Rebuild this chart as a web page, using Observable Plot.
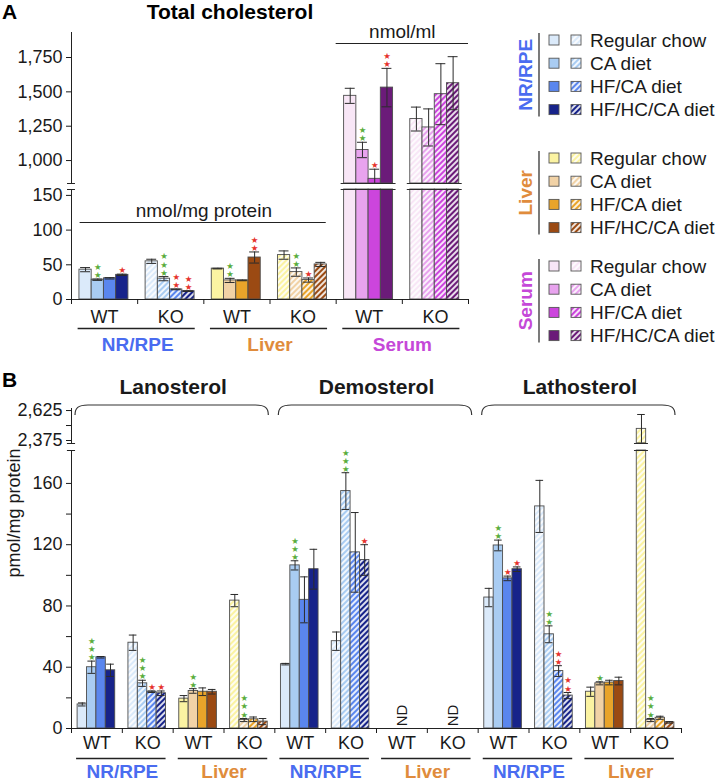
<!DOCTYPE html>
<html><head><meta charset="utf-8">
<script src="https://cdn.jsdelivr.net/npm/d3@7"></script>
<script src="https://cdn.jsdelivr.net/npm/@observablehq/plot@0.6"></script>
<style>
body{margin:0;background:#fff;}
#wrap{position:relative;width:719px;height:783px;overflow:hidden;background:#fff}
</style></head><body><div id="wrap"></div>
<script>
// ---------- data ----------
const diets = ["Regular chow", "CA diet", "HF/CA diet", "HF/HC/CA diet"];
const genotypes = ["WT", "KO"];
const tissuesA = ["NR/RPE", "Liver", "Serum"];
const tissuesB = ["NR/RPE", "Liver"];
const sterols = ["Lanosterol", "Demosterol", "Lathosterol"];

// Total cholesterol (rows: NR/RPE WT, NR/RPE KO, Liver WT, Liver KO, Serum WT, Serum KO)
const cholMean = [[43, 28.5, 30.5, 35.5], [55, 30, 14.5, 12], [44.5, 27.5, 27.5, 60.5], [64, 39.5, 28, 50.5], [1471, 1077, 867, 1531], [1302, 1241, 1483, 1563]];
const cholErr = [[3, 1, 1, 1], [3, 3, 0.5, 0.5], [0.5, 3, 0.5, 8], [6, 6, 3, 3], [55, 56, 70, 140], [87, 135, 222, 193]];
const cholStars = [["", "g2", "", "r1"], ["", "g3", "r2", "r2"], ["", "g2", "", "r2"], ["", "g2", "r1", ""], ["", "g2", "r1", "r2"], ["", "", "", ""]];

// Sterols (rows: NR/RPE WT, NR/RPE KO, Liver WT, Liver KO)
const lanoMean = [[15.7, 40, 46.5, 38], [56, 29.5, 24, 23], [19.5, 24.5, 24, 24], [83.5, 5.5, 6, 4.5]];
const lanoErr = [[1, 4, 0.5, 4], [5, 2, 0.5, 1.5], [2, 1.5, 2.5, 1.5], [4, 1, 1.5, 2]];
const lanoStars = [["", "g3", "", ""], ["", "g3", "r1", "r1"], ["", "g2", "", ""], ["", "g3", "", ""]];
const desmoMean = [[42, 106.5, 84, 104], [57, 155, 115, 110], null, null];
const desmoErr = [[0.5, 3, 15, 13], [6, 12, 26, 10], null, null];
const desmoStars = [["", "g3", "", ""], ["", "g3", "", "r1"], null, null];
const lathoMean = [[85.5, 119.5, 98, 104], [145, 61.5, 37.5, 21.5], [24, 29.5, 30, 31], [2472, 5.5, 7, 4]];
const lathoErr = [[6, 3.5, 1.5, 1.5], [17, 5.5, 3.5, 2], [3, 1, 1.5, 2.5], [120, 1, 1, 0.5]];
const lathoStars = [["", "g2", "r1", "r1"], ["", "g2", "r2", "r2"], ["", "g1", "", ""], ["", "g3", "", ""]];

const ticksA_low = [0, 50, 100, 150];
const ticksA_up = [1000, 1250, 1500, 1750];
const ticksB_low = [0, 40, 80, 120, 160];
const ticksB_lowMinor = [20, 60, 100, 140];
const ticksB_up = [2375, 2625];
const ticksB_upMinor = [2500];

// ---------- styles ----------
const palette = [
  ["#dbeafa", "#a9ccf2", "#5a86ee", "#17238a"],
  ["#fbf3a2", "#f1d2a6", "#e9a42a", "#9b4a13"],
  ["#f8e6f6", "#e8a3ee", "#cc45dd", "#6b1b79"]
];
const tissueColors = ["#4a6cf0", "#e08c3c", "#c548d8"];
const GREEN = "#5aad3c", RED = "#e6322c";
const FONT = '"Liberation Sans", Arial, Helvetica, sans-serif';
const style = {fontFamily: FONT, fontSize: "18px", color: "#1a1a1a", background: "transparent", overflow: "visible"};
const PAD = 0.12, BW = 0.185, CAP = 0.075;
const A_LOW = [0, 158.5], A_UP = [833, 1932];
const B_LOW = [0, 181.5], B_UP = [2350, 2642];

const wrap = document.getElementById("wrap");

// overlay svg (patterns, titles, legend)
const overlay = d3.select(wrap).append("svg")
  .attr("width", 719).attr("height", 783)
  .style("position", "absolute").style("left", 0).style("top", 0)
  .attr("font-family", FONT);
const defs = overlay.append("defs");
palette.forEach((cols, t) => cols.forEach((c, d) => {
  const p = defs.append("pattern").attr("id", `hatch-${t}-${d}`)
    .attr("patternUnits", "userSpaceOnUse").attr("width", 4).attr("height", 4)
    .attr("patternTransform", "rotate(45)");
  p.append("rect").attr("width", 4).attr("height", 4).attr("fill", c);
  p.append("line").attr("x1", 1).attr("x2", 1).attr("y1", 0).attr("y2", 4)
    .attr("stroke", "#fff").attr("stroke-width", 1.7);
}));

overlay.append("text").attr("x", 2).attr("y", 19).attr("font-weight", "bold").attr("font-size", 21).text("A");
overlay.append("text").attr("x", 230).attr("y", 19).attr("text-anchor", "middle").attr("font-weight", "bold").attr("font-size", 21).text("Total cholesterol");
overlay.append("text").attr("x", 2).attr("y", 387).attr("font-weight", "bold").attr("font-size", 21).text("B");

// legend
const legendTop = [40, 158, 266], rowGap = 23.2;
tissuesA.forEach((t, ti) => {
  const ys = diets.map((_, d) => legendTop[ti] + d * rowGap);
  overlay.append("line").attr("x1", 539).attr("x2", 539).attr("y1", ys[0] - 7).attr("y2", ys[3] + 7)
    .attr("stroke", "#333").attr("stroke-width", 1.3);
  overlay.append("text").attr("transform", `translate(532,${(ys[0] + ys[3]) / 2}) rotate(-90)`)
    .attr("text-anchor", "middle").attr("font-weight", "bold").attr("font-size", 19)
    .attr("fill", tissueColors[ti]).text(t);
  diets.forEach((dn, d) => {
    overlay.append("rect").attr("x", 549).attr("y", ys[d] - 5).attr("width", 10).attr("height", 10)
      .attr("fill", palette[ti][d]).attr("stroke", "#555").attr("stroke-width", 0.9);
    overlay.append("rect").attr("x", 571).attr("y", ys[d] - 5).attr("width", 10).attr("height", 10)
      .attr("fill", `url(#hatch-${ti}-${d})`).attr("stroke", "#555").attr("stroke-width", 0.9);
    overlay.append("text").attr("x", 590).attr("y", ys[d]).attr("dy", "0.36em").attr("font-size", 19)
      .attr("fill", "#1a1a1a").text(dn);
  });
});

// ---------- helpers ----------
function build(means, errs, stars, tissueOf) {
  const out = [];
  means.forEach((row, g) => {
    if (!row) return;
    row.forEach((m, d) => {
      const t = tissueOf(g), ko = g % 2 === 1;
      const x1 = g + PAD + d * BW;
      out.push({g, d, mean: m, err: errs[g][d], star: stars[g][d], x1, x2: x1 + BW, xc: x1 + BW / 2,
        fill: ko ? `url(#hatch-${t}-${d})` : palette[t][d]});
    });
  });
  return out;
}
const starText = s => Array(+s.slice(1)).fill("\u2605").join("\n");
const starFill = s => s[0] === "g" ? GREEN : RED;

function segment(recs, lo, hi, top) {
  const shown = top ? recs.filter(r => r.mean > lo) : recs;
  const ends = shown.filter(r => r.mean <= hi);
  const cut = top ? shown : recs.filter(r => r.mean > hi);
  const cutY = top ? lo : hi;
  const ink = "#2b2b2b";
  return [
    Plot.rect(shown, {x1: "x1", x2: "x2", y1: () => lo, y2: r => Math.min(r.mean, hi), fill: "fill", stroke: "#4d4d4d", strokeWidth: 0.9}),
    Plot.ruleX(ends, {x: "xc", y1: r => Math.max(lo, r.mean - r.err), y2: r => r.mean + r.err, stroke: ink, strokeWidth: 1}),
    Plot.ruleY(ends, {y: r => r.mean + r.err, x1: r => r.xc - CAP, x2: r => r.xc + CAP, stroke: ink, strokeWidth: 1}),
    Plot.ruleY(ends.filter(r => r.mean - r.err > lo), {y: r => r.mean - r.err, x1: r => r.xc - CAP, x2: r => r.xc + CAP, stroke: ink, strokeWidth: 1}),
    Plot.text(ends.filter(r => r.star), {x: "xc", y: r => r.mean + r.err, text: r => starText(r.star), fill: r => starFill(r.star),
      fontFamily: "DejaVu Sans", fontSize: 8.5, lineHeight: 0.95, lineAnchor: "bottom", dy: -1}),
    Plot.ruleY(cut, {y: () => cutY, x1: r => r.x1 - 0.045, x2: r => r.x2 + 0.045, stroke: ink, strokeWidth: 1})
  ];
}
function place(el, top) {
  const d = document.createElement("div");
  d.style.cssText = `position:absolute;left:0;top:${top}px`;
  d.appendChild(el); wrap.appendChild(d); return el;
}

// ---------- Panel A ----------
const recsA = build(cholMean, cholErr, cholStars, g => Math.floor(g / 2));
const groupsA = tissuesA.flatMap(() => genotypes);

place(Plot.plot({
  width: 719, height: 186, marginLeft: 71, marginRight: 251, marginTop: 32, marginBottom: 3,
  x: {domain: [0, 6], axis: null}, y: {domain: A_UP}, color: {type: "identity"}, style,
  marks: [
    ...segment(recsA, A_UP[0], A_UP[1], true),
    Plot.ruleX([0], {stroke: "#222"}),
    Plot.axisY({ticks: ticksA_up, tickFormat: d3.format(","), tickSize: 5, tickPadding: 4, label: null}),
    Plot.ruleY([A_UP[0]], {x1: () => -0.06, x2: () => 0.06, stroke: "#222"}),
    Plot.text(["nmol/ml"], {x: () => 5, frameAnchor: "top", lineAnchor: "middle", dy: -1, text: d => d, fontSize: 19}),
    Plot.ruleY([A_UP[1]], {x1: () => 4, x2: () => 6, dy: 11, stroke: "#222", strokeWidth: 1.2})
  ]
}), 0);

place(Plot.plot({
  width: 719, height: 174, marginLeft: 71, marginRight: 251, marginTop: 3, marginBottom: 61,
  x: {domain: [0, 6]}, y: {domain: A_LOW}, color: {type: "identity"}, style,
  marks: [
    ...segment(recsA, A_LOW[0], A_LOW[1], false),
    Plot.ruleY([0], {stroke: "#222"}),
    Plot.ruleX([0], {stroke: "#222"}),
    Plot.axisY({ticks: ticksA_low, tickSize: 5, tickPadding: 4, label: null}),
    Plot.axisX({ticks: d3.range(7), tickSize: 5, tickFormat: () => "", label: null}),
    Plot.ruleY([A_LOW[1]], {x1: () => -0.06, x2: () => 0.06, stroke: "#222"}),
    Plot.text(groupsA, {x: (d, i) => i + 0.5, frameAnchor: "bottom", lineAnchor: "middle", dy: 18, text: d => d, fontSize: 18}),
    Plot.ruleY(tissuesA, {y: () => 0, x1: (d, i) => 2 * i + 0.1, x2: (d, i) => 2 * i + 1.87, dy: 29, stroke: "#222", strokeWidth: 1.3}),
    Plot.text(tissuesA, {x: (d, i) => 2 * i + 1, frameAnchor: "bottom", lineAnchor: "middle", dy: 45, text: d => d, fill: (d, i) => tissueColors[i], fontWeight: "bold", fontSize: 19}),
    Plot.text(["nmol/mg protein"], {x: () => 2, frameAnchor: "top", lineAnchor: "middle", dy: 21, text: d => d, fontSize: 19}),
    Plot.ruleY([A_LOW[1]], {x1: () => 0.13, x2: () => 3.85, dy: 33, stroke: "#222", strokeWidth: 1.2})
  ]
}), 186);

// ---------- Panel B ----------
const bMean = [...lanoMean, ...desmoMean, ...lathoMean];
const bErr = [...lanoErr, ...desmoErr, ...lathoErr];
const bStars = [...lanoStars, ...desmoStars, ...lathoStars];
const recsB = build(bMean, bErr, bStars, g => Math.floor(g / 2) % 2);
const groupsB = sterols.flatMap(() => tissuesB.flatMap(() => genotypes));
const tissueRowB = sterols.flatMap(() => tissuesB);
const ndGroups = bMean.map((m, g) => m ? -1 : g).filter(g => g >= 0);

const bUp = place(Plot.plot({
  width: 719, height: 76, marginLeft: 71, marginRight: 38, marginTop: 38, marginBottom: 3,
  x: {domain: [0, 12], axis: null}, y: {domain: B_UP}, color: {type: "identity"}, style,
  marks: [
    ...segment(recsB, B_UP[0], B_UP[1], true),
    Plot.ruleX([0], {stroke: "#222"}),
    Plot.axisY({ticks: ticksB_up, tickFormat: d3.format(","), tickSize: 5, tickPadding: 4, label: null}),
    Plot.axisY({ticks: ticksB_upMinor, tickFormat: () => "", tickSize: 5, label: null}),
    Plot.ruleY([B_UP[0]], {x1: () => -0.08, x2: () => 0.08, stroke: "#222"}),
    Plot.text(sterols, {x: (d, i) => 4 * i + 2, frameAnchor: "top", dy: -15, lineAnchor: "bottom", text: d => d, fontWeight: "bold", fontSize: 21})
  ]
}), 370);
{
  const xs = bUp.scale("x");
  const svg = d3.select(bUp);
  sterols.forEach((s, i) => {
    const xa = xs.apply(4 * i) + 4, xb = xs.apply(4 * i + 4) - 6, y0 = 35, h = 10;
    svg.append("path")
      .attr("d", `M${xa},${y0 + h} C${xa},${y0 + 3} ${xa + 3},${y0} ${xa + 13},${y0} L${xb - 13},${y0} C${xb - 3},${y0} ${xb},${y0 + 3} ${xb},${y0 + h}`)
      .attr("fill", "none").attr("stroke", "#333").attr("stroke-width", 1.2);
  });
}

place(Plot.plot({
  width: 719, height: 337, marginLeft: 71, marginRight: 38, marginTop: 4, marginBottom: 55,
  x: {domain: [0, 12]}, y: {domain: B_LOW}, color: {type: "identity"}, style,
  marks: [
    ...segment(recsB, B_LOW[0], B_LOW[1], false),
    Plot.ruleY([0], {stroke: "#222"}),
    Plot.ruleX([0], {stroke: "#222"}),
    Plot.axisY({ticks: ticksB_low, tickSize: 5, tickPadding: 4, label: null}),
    Plot.axisY({ticks: ticksB_lowMinor, tickFormat: () => "", tickSize: 5, label: null}),
    Plot.axisX({ticks: d3.range(13), tickSize: 5, tickFormat: () => "", label: null}),
    Plot.ruleY([B_LOW[1]], {x1: () => -0.08, x2: () => 0.08, stroke: "#222"}),
    Plot.text(["pmol/mg protein"], {frameAnchor: "left", lineAnchor: "middle", dx: -57, dy: -12, rotate: -90, text: d => d, fontSize: 18}),
    Plot.text(ndGroups, {x: g => g + 0.5, frameAnchor: "bottom", lineAnchor: "middle", dy: -13, rotate: -90, text: () => "ND", fontSize: 15}),
    Plot.text(groupsB, {x: (d, i) => i + 0.5, frameAnchor: "bottom", lineAnchor: "middle", dy: 15, text: d => d, fontSize: 18}),
    Plot.ruleY(tissueRowB, {y: () => 0, x1: (d, i) => 2 * i + 0.1, x2: (d, i) => 2 * i + 1.86, dy: 30, stroke: "#222", strokeWidth: 1.3}),
    Plot.text(tissueRowB, {x: (d, i) => 2 * i + 1, frameAnchor: "bottom", lineAnchor: "middle", dy: 43.5, text: d => d, fill: (d, i) => tissueColors[tissuesB.indexOf(d)], fontWeight: "bold", fontSize: 19})
  ]
}), 446);
</script></body></html>
